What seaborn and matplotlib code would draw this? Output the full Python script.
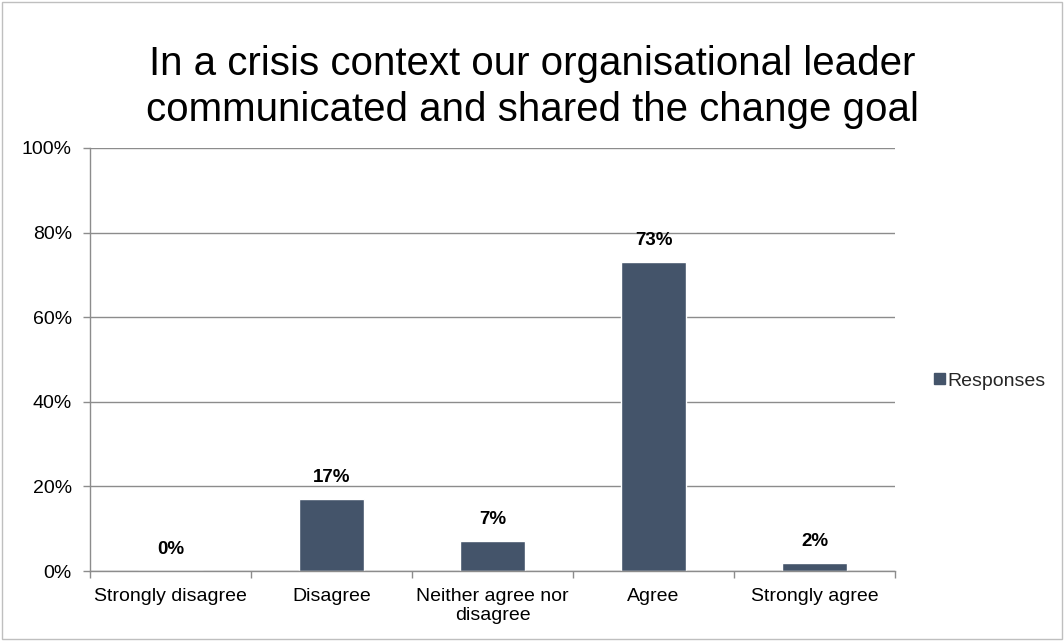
import matplotlib
matplotlib.use("Agg")
import matplotlib.pyplot as plt
import matplotlib.patches as mpatches
import seaborn as sns
import pandas as pd
from matplotlib.ticker import FixedLocator, PercentFormatter

categories = ["Strongly disagree", "Disagree", "Neither agree nor\ndisagree", "Agree", "Strongly agree"]
responses = [0, 17, 7, 73, 2]
series_name = "Responses"
y_ticks = [0, 20, 40, 60, 80, 100]
title = "In a crisis context our organisational leader\ncommunicated and shared the change goal"

bar_color = "#44546A"
grid_color = "#8C8C8C"

sns.set_theme(style="white")
plt.rcParams["font.family"] = ["Liberation Sans", "DejaVu Sans"]

df = pd.DataFrame({"category": categories, "value": responses, "series": series_name})

fig = plt.figure(figsize=(10.64, 6.41), dpi=100)
ax = fig.add_axes([90 / 1064, 70 / 641, 805 / 1064, 423 / 641])

sns.barplot(data=df, x="category", y="value", hue="series", palette=[bar_color],
            width=0.4, ax=ax, legend=False, saturation=1)

ax.set_ylim(0, 100)
ax.set_xlim(-0.5, len(categories) - 0.5)
ax.yaxis.set_major_locator(FixedLocator(y_ticks))
ax.yaxis.set_major_formatter(PercentFormatter(decimals=0))
ax.grid(axis="y", color=grid_color, linewidth=1)
ax.set_axisbelow(True)
ax.set_xlabel("")
ax.set_ylabel("")

for side in ["top", "right"]:
    ax.spines[side].set_visible(False)
for side in ["left", "bottom"]:
    ax.spines[side].set_color(grid_color)
    ax.spines[side].set_linewidth(1)

# category separators drawn as outward ticks on the x axis
ax.xaxis.set_minor_locator(FixedLocator([i - 0.5 for i in range(len(categories) + 1)]))
ax.tick_params(axis="x", which="major", length=0, pad=12, labelsize=14, labelcolor="#000000")
ax.tick_params(axis="x", which="minor", length=5, width=1, color=grid_color, direction="out", bottom=True)
ax.tick_params(axis="y", which="major", length=5, width=1, color=grid_color, direction="out",
               left=True, pad=8, labelsize=14, labelcolor="#000000")
for lbl in ax.get_xticklabels():
    lbl.set_linespacing(1.2)

# value labels above bars
for i, v in enumerate(responses):
    ax.annotate(f"{v}%", (i, v), xytext=(0, 15.5), textcoords="offset points",
                ha="center", va="center", fontsize=13.5, fontweight="bold", color="#000000")

handle = mpatches.Patch(color=bar_color, label=series_name)
fig.legend(handles=[handle], loc="center left", bbox_to_anchor=(934 / 1064, 1 - 381 / 641),
           frameon=False, fontsize=14, handlelength=0.55, handleheight=0.55, handletextpad=0.15,
           borderaxespad=0, borderpad=0)

fig.text(0.5, 1 - 87 / 641, title, ha="center", va="center", fontsize=29, linespacing=1.27,
         color="#000000")

# thin outer frame
fig.patches.append(mpatches.Rectangle((2 / 1064, 2 / 641), 1060 / 1064, 637 / 641,
                                      transform=fig.transFigure, fill=False,
                                      edgecolor="#BFBFBF", linewidth=1))

fig.savefig("out.png", dpi=100)
